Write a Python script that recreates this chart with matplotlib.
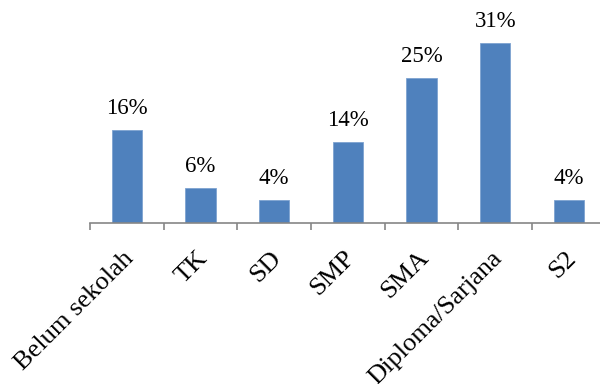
import matplotlib
matplotlib.use('Agg')
import matplotlib.pyplot as plt
import matplotlib.transforms as mtransforms

# Data
categories = ['Belum sekolah', 'TK', 'SD', 'SMP', 'SMA', 'Diploma/Sarjana', 'S2']
values = [16, 6, 4, 14, 25, 31, 4]

plt.rcParams['font.family'] = ['Liberation Serif', 'DejaVu Serif']

fig = plt.figure(figsize=(6.0, 3.84), dpi=100)
# axes runs a little past the right edge, as in the original
ax = fig.add_axes([90 / 600, 161 / 384, 515.7 / 600, 203 / 384])

x = list(range(len(categories)))
ax.bar(x, values, width=0.41, color='#4F81BD', edgecolor='#7EA3D1', linewidth=0.6)

ax.set_xlim(-0.5, len(categories) - 0.5)
ax.set_ylim(0, 35)

for s in ['top', 'right', 'left']:
    ax.spines[s].set_visible(False)
ax.spines['bottom'].set_color('#868686')
ax.spines['bottom'].set_linewidth(1.2)
ax.set_yticks([])

# tick marks between categories
ax.set_xticks([i - 0.5 for i in range(len(categories) + 1)])
ax.set_xticklabels([])
ax.tick_params(axis='x', direction='out', length=5, width=1.2, color='#868686')

# value labels
for xi, v in zip(x, values):
    ax.annotate(f'{v}%', (xi, v), xytext=(0, 8), textcoords='offset points',
                ha='center', va='bottom', fontsize=16.5)

# rotated category labels
lab_tr = mtransforms.offset_copy(ax.transData, fig=fig, x=-4, y=-24, units='dots')
for xi, name in zip(x, categories):
    ax.text(xi, 0, name, transform=lab_tr, rotation=45, rotation_mode='anchor',
            ha='right', va='top', fontsize=19)

fig.savefig('out.png', dpi=100)
